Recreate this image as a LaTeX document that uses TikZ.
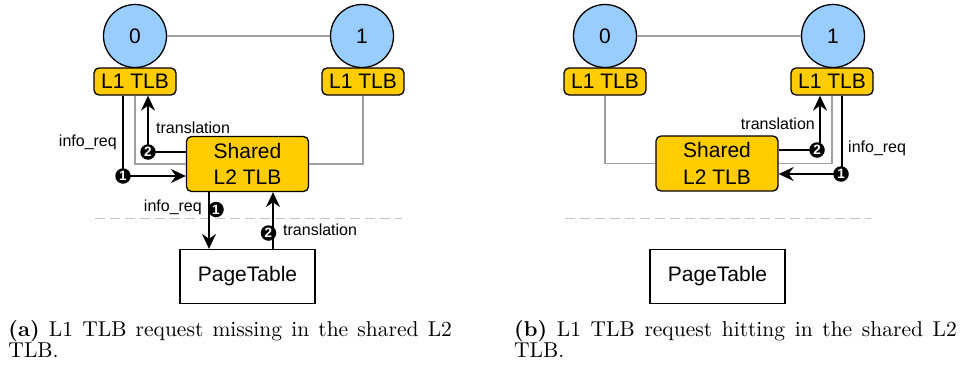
\documentclass[tikz,border=0pt]{standalone}
\usepackage{fontspec}
\newfontfamily\diagfont{Liberation Sans}
\newfontfamily\capfont{lmroman10}[Extension=.otf,UprightFont=*-regular,BoldFont=*-bold]
\usetikzlibrary{arrows.meta}
\definecolor{cpublue}{HTML}{99CCFF}
\definecolor{tlbgold}{HTML}{FFCC00}
\definecolor{linkgray}{HTML}{A0A0A0}
\definecolor{sepgray}{HTML}{C4C4C4}
\begin{document}
\begin{tikzpicture}[x=1pt,y=-1pt,
  cpu/.style={circle,draw,line width=1.3pt,fill=cpublue,minimum size=63pt,inner sep=0pt,
    font=\diagfont\fontsize{21}{25}\selectfont},
  tlb/.style={draw,line width=1.3pt,fill=tlbgold,rounded corners=5pt,minimum width=82pt,
    minimum height=27pt,inner sep=0pt,font=\diagfont\fontsize{21}{25}\selectfont},
  l2/.style={tlb,minimum width=122pt,minimum height=55pt,align=center,
    font=\diagfont\fontsize{21}{26.5}\selectfont},
  ptab/.style={draw,line width=1.3pt,minimum width=135pt,minimum height=54pt,inner sep=0pt,
    font=\diagfont\fontsize{21}{25}\selectfont},
  link/.style={draw=linkgray,line width=1.8pt},
  flow/.style={line width=1.8pt,-{Stealth[length=15pt,width=14pt,inset=5pt]}},
  badge/.style={circle,fill=black,text=white,minimum size=15.5pt,inner sep=0pt,
    font=\diagfont\bfseries\fontsize{13.5}{13.5}\selectfont},
  lbl/.style={inner sep=0pt,font=\diagfont\fontsize{16}{16}\selectfont},
  sepline/.style={draw=sepgray,line width=1.5pt,dash pattern=on 10pt off 5pt},
  subcap/.style={anchor=base west,inner sep=0pt,font=\capfont\fontsize{21.5}{21}\selectfont}
]
\useasboundingbox (0,0) rectangle (963,370);

% ---------- (a) request missing in the shared L2 TLB ----------
\node[cpu] (c0a) at (135,36) {0};
\node[cpu] (c1a) at (362,36) {1};
\node[tlb] (t0a) at (135,81.5) {L1 TLB};
\node[tlb] (t1a) at (363,81.5) {L1 TLB};
\node[l2] (l2a) at (247.5,164) {Shared\\L2 TLB};
\node[ptab] (pta) at (247.5,276.5) {PageTable};

\draw[link] (c0a) -- (c1a);
\draw[link] (t0a.south) |- (l2a.west);
\draw[link] (l2a.east) -| (t1a.south);
\draw[sepline] (95,218.5) -- (402,218.5);

\coordinate (k1a) at (123,176);
\coordinate (k2a) at (148,152);
\coordinate (k3a) at (209,209.5);
\coordinate (k4a) at (273,233);
\draw[flow] (k1a |- t0a.south) -- (k1a) -- (k1a -| l2a.west);
\draw[flow] (k2a -| l2a.west) -- (k2a) -- (k2a |- t0a.south);
\draw[flow] (k3a |- l2a.south) -- (k3a |- pta.north);
\draw[flow] (k4a |- pta.north) -- (k4a |- l2a.south);
\node[badge] (b1a) at (k1a) {1};
\node[badge] (b2a) at (k2a) {2};
\node[badge] (b3a) at ([xshift=7pt]k3a) {1};
\node[badge] (b4a) at ([xshift=-4.5pt]k4a) {2};

\node[lbl,anchor=west] (tr1a) at (156,128) {translation};
\node[lbl,anchor=east] (ir1a) at (117,142) {info\_req};
\node[lbl,anchor=east] (ir2a) at (202,207) {info\_req};
\node[lbl,anchor=west] (tr2a) at (283,229.5) {translation};

% ---------- (b) request hitting in the shared L2 TLB ----------
\node[cpu] (c0b) at (605,36) {0};
\node[cpu] (c1b) at (833,36) {1};
\node[tlb] (t0b) at (605,81.5) {L1 TLB};
\node[tlb] (t1b) at (832,81.5) {L1 TLB};
\node[l2] (l2b) at (717,163.5) {Shared\\L2 TLB};
\node[ptab] (ptb) at (717.5,276.5) {PageTable};

\draw[link] (c0b) -- (c1b);
\draw[link] (t0b.south) |- (l2b.west);
\draw[link] (l2b.east) -| (t1b.south);
\draw[sepline] (565,218.5) -- (872,218.5);

\coordinate (k1b) at (842,174);
\coordinate (k2b) at (820,150);
\draw[flow] (k1b |- t1b.south) -- (k1b) -- (k1b -| l2b.east);
\draw[flow] (k2b -| l2b.east) -- (k2b) -- (k2b |- t1b.south);
\node[badge] (b1b) at ([xshift=-1pt]k1b) {1};
\node[badge] (b2b) at ([xshift=-3pt]k2b) {2};

\node[lbl,anchor=east] (tr1b) at (815,124) {translation};
\node[lbl,anchor=west] (ir1b) at (848,148) {info\_req};

% ---------- captions (first lines justified to the column width) ----------
\node[subcap] (capa1) at (8.3,336.5)
  {\hbox to 443.5pt{\textbf{(a)} L1 TLB request missing in the shared L2}};
\node[subcap] (capa2) at (8.3,357.5) {TLB.};
\node[subcap] (capb1) at (514,336.5)
  {\hbox to 442.7pt{\textbf{(b)} L1 TLB request hitting in the shared L2}};
\node[subcap] (capb2) at (514,357.5) {TLB.};
\end{tikzpicture}
\end{document}
